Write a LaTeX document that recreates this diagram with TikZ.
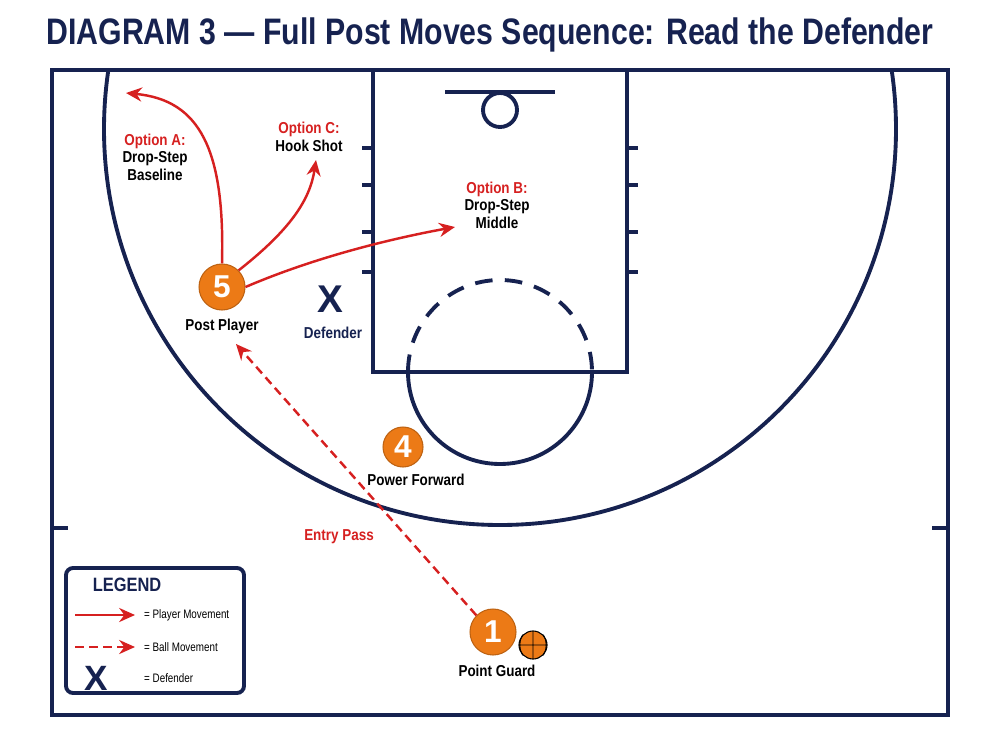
\documentclass[tikz,border=0pt]{standalone}
\usepackage{fontspec}
\setmainfont{Liberation Sans}
\usetikzlibrary{arrows.meta}
\definecolor{navy}{RGB}{22,34,80}
\definecolor{courtred}{RGB}{214,32,32}
\definecolor{ballorange}{RGB}{236,122,22}
\tikzset{
  line/.style={draw=navy,line width=2.2pt},
  player/.style={circle,fill=ballorange,draw=ballorange!80!black,line width=0.6pt,minimum size=#1,inner sep=0pt,text=white,font=\bfseries\fontsize{18}{18}\selectfont},
  lbl/.style={font=\bfseries\fontsize{9}{10}\selectfont\addfontfeature{FakeStretch=0.85},text=black,align=center},
  rlbl/.style={lbl,text=courtred},
  move/.style={draw=courtred,line width=1.4pt,-{Stealth[length=9pt,width=8pt]}},
  pass/.style={move,dash pattern=on 5pt off 3pt}
}
\begin{document}
\begin{tikzpicture}[x=0.02cm,y=-0.02cm]
\useasboundingbox (0,0) rectangle (1000,750);
\node (title) at (490,35) {\bfseries\fontsize{21}{24}\selectfont\addfontfeature{FakeStretch=0.82}\color{navy}DIAGRAM 3 — Full Post Moves Sequence: Read the Defender};
% court
\draw[line] (52,70) rectangle (948,715);
\begin{scope}
  \clip (52,70) rectangle (948,715);
  \draw[line] (500,129) circle[radius=396];
\end{scope}
\draw[line] (52,528) -- (68,528) (932,528) -- (948,528);
% lane
\draw[line] (373,70) rectangle (627,372);
\foreach \y in {148,185,232,272}{
  \draw[line] (362,\y) -- (373,\y) (627,\y) -- (638,\y);
}
\draw[line] (445,92) -- (555,92);
\draw[line] (500,110) circle[radius=17];
% free throw circle
\draw[line] (408,372) arc[start angle=180,end angle=0,radius=92];
\draw[line,dash pattern=on 10pt off 7pt] (408,372) arc[start angle=180,end angle=360,radius=92];
% players
\node[player=0.92cm] (p5) at (222,287) {5};
\node[player=0.8cm] (p4) at (403,447) {4};
\node[player=0.92cm] (p1) at (493,632) {1};
\node[circle,fill=ballorange,draw=black,line width=0.6pt,minimum size=0.56cm,inner sep=0pt] (ball) at (533,645) {};
\draw[black,line width=0.5pt] (ball.north) -- (ball.south) (ball.west) -- (ball.east)
  (ball.north west) to[bend right=30] (ball.south west) (ball.north east) to[bend left=30] (ball.south east);
\node[font=\bfseries\fontsize{22}{22}\selectfont,text=navy] (def) at (330,299) {X};
\node[lbl,text=navy] (deflbl) at (333,333) {Defender};
\node[lbl] (p5lbl) at (222,326) {Post Player};
\node[lbl] (p4lbl) at (416,480) {Power Forward};
\node[lbl] (p1lbl) at (497,671) {Point Guard};
\node[rlbl] (entry) at (339,537) {Entry Pass};
% options
\node[lbl] (optA) at (155,157) {\textcolor{courtred}{Option A:}\\Drop-Step\\Baseline};
\node[lbl] (optC) at (309,137) {\textcolor{courtred}{Option C:}\\Hook Shot};
\node[lbl] (optB) at (497,205) {\textcolor{courtred}{Option B:}\\Drop-Step\\Middle};
\coordinate (tA) at (126,93);
\coordinate (tC) at (316,160);
\coordinate (tB) at (455,227);
\coordinate (tP) at (236,344);
\draw[move] (p5.north) .. controls (225,150) and (200,100) .. (tA);
\draw[move] (p5.north east) .. controls (290,230) and (310,200) .. (tC);
\draw[move] (p5.east) .. controls (320,255) and (400,237) .. (tB);
\draw[pass] (p1.north west) -- (tP);
% legend
\draw[line,rounded corners=4pt,fill=white] (66,568) rectangle (244,693);
\node[font=\bfseries\fontsize{11}{12}\selectfont\addfontfeature{FakeStretch=0.85},text=navy] (leg) at (127,585) {LEGEND};
\coordinate (l1a) at (75,615); \coordinate (l1b) at (135,615);
\coordinate (l2a) at (75,647); \coordinate (l2b) at (135,647);
\draw[move] (l1a) -- (l1b);
\draw[pass] (l2a) -- (l2b);
\node[font=\bfseries\fontsize{20}{20}\selectfont,text=navy] (legx) at (96,678) {X};
\node[font=\fontsize{7}{8}\selectfont\addfontfeature{FakeStretch=0.8},anchor=west] at (138,615) {= Player Movement};
\node[font=\fontsize{7}{8}\selectfont\addfontfeature{FakeStretch=0.8},anchor=west] at (138,647) {= Ball Movement};
\node[font=\fontsize{7}{8}\selectfont\addfontfeature{FakeStretch=0.8},anchor=west] at (138,678) {= Defender};
\end{tikzpicture}
\end{document}
